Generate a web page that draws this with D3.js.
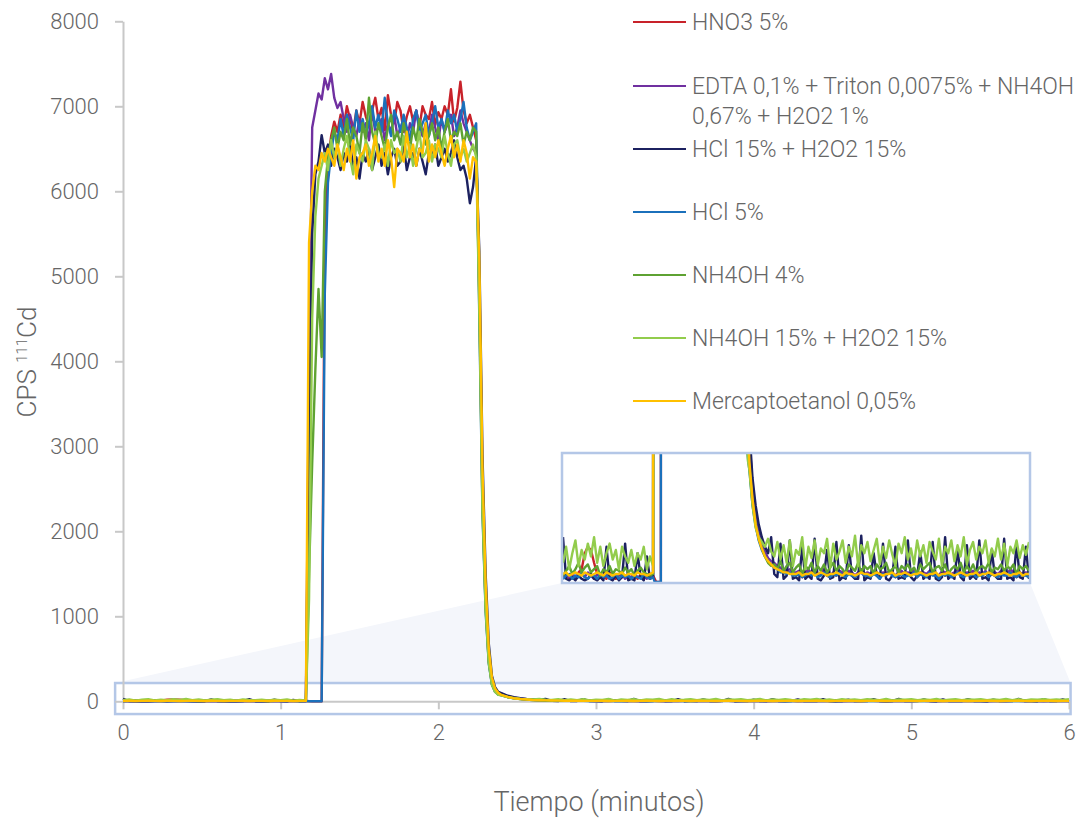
<!DOCTYPE html>
<html>
<head>
<meta charset="utf-8">
<script src="https://cdn.jsdelivr.net/npm/d3@7"></script>
<style>
  html, body { margin: 0; padding: 0; background: #fff; }
  svg text { font-family: Roboto, "Open Sans", sans-serif; font-weight: 300; fill: #666; }
</style>
</head>
<body>
<svg id="chart" width="1084" height="820"></svg>
<script>
// time segments (minutes)
const preSpan = [0, 1.12];
const peakSpan = [1.16, 2.24];
const fallSpan = [2.26, 2.38];
const afterSpan = [2.40, 6.0];

const seriesNames = ['HNO3 5%', 'EDTA 0,1% + Triton 0,0075% + NH4OH|0,67% + H2O2 1%', 'HCl 15% + H2O2 15%',
  'HCl 5%', 'NH4OH 4%', 'NH4OH 15% + H2O2 15%', 'Mercaptoetanol 0,05%'];
const seriesColors = ['#c8222a', '#7030a0', '#1c2160', '#1b70bb', '#5ea232', '#92cc4c', '#ffc000'];

// baseline before injection
const redPre = [3, 5, 2, 4, 2, 6, 8, 18, 22, 20, 12, 5, 3, 4, 2, 6, 4, 2, 5, 3, 4, 2, 3, 5, 2, 4, 2, 4, 2];
const purplePre = [2, 4, 3, 6, 2, 4, 5, 3, 6, 4, 2, 5, 4, 3, 6, 3, 2, 4, 4, 5, 2, 4, 3, 5, 3, 4, 4, 2, 3];
const navyPre = [28, 2, 1, 3, 1, 4, 2, 1, 2, 5, 2, 1, 3, 1, 22, 2, 1, 4, 1, 3, 24, 1, 2, 1, 18, 3, 1, 16, 2];
const bluePre = [2, 4, 5, 2, 4, 3, 6, 3, 2, 4, 4, 2, 5, 3, 4, 2, 3, 5, 2, 4, 3, 4, 2, 4, 3, 2, 5, 3, 2];
const greenPre = [4, 7, 10, 5, 8, 12, 6, 9, 11, 6, 8, 10, 4, 8, 6, 10, 5, 8, 7, 5, 9, 6, 8, 4, 7, 9, 6, 5, 4];
const lgreenPre = [12, 22, 8, 18, 26, 10, 20, 14, 24, 16, 28, 12, 22, 10, 18, 24, 14, 20, 8, 22, 16, 12, 20, 10, 18, 14, 22, 8, 16];
const yellowPre = [5, 6, 4, 5, 6, 5, 4, 6, 5, 4, 5, 6, 5, 4, 6, 5, 4, 5, 5, 6, 4, 5, 5, 4, 6, 5, 5, 4, 5];

// rise + plateau (1.16 .. 2.24 min)
const redPeak = [4, 2, 0, 0, 0, 0, 5600, 6350, 6650, 6820, 6700, 6900, 6750, 7000, 6850, 6700, 6950, 6800, 7050, 6880, 6760, 6950, 7100, 6850, 6980, 6720, 7130, 6900, 6800, 7050, 6950, 6700, 6880, 7000, 6820, 6950, 6750, 7000, 6900, 6850, 7050, 6780, 6930, 6850, 7000, 6900, 7200, 6820, 6980, 7290, 6950, 6800, 6900, 6750, 6600];
const purplePeak = [4, 4000, 6750, 6950, 7150, 7080, 7330, 7200, 7380, 7100, 6980, 7050, 6850, 6700, 6900, 6750, 6650, 6850, 6700, 6800, 6600, 6950, 6700, 6750, 6850, 6600, 6800, 6700, 6900, 6650, 6750, 6850, 6600, 6800, 6700, 6950, 6750, 6650, 6800, 6700, 6900, 6750, 6600, 6850, 6700, 6800, 6900, 6650, 6750, 6950, 6800, 6700, 6600, 6500, 6450];
const navyPeak = [3, 3200, 5500, 6200, 6350, 6660, 6450, 6550, 6300, 6500, 6400, 6250, 6450, 6350, 6550, 6300, 6400, 6150, 6450, 6350, 6500, 6250, 6400, 6550, 6300, 6450, 6200, 6400, 6500, 6300, 6350, 6550, 6250, 6400, 6450, 6300, 6500, 6350, 6200, 6450, 6400, 6550, 6300, 6400, 6500, 6350, 6450, 6600, 6400, 6250, 6300, 6150, 5860, 6050, 6400];
const bluePeak = [3, 0, 0, 0, 0, 0, 4800, 6100, 6450, 6700, 6600, 6850, 6650, 6900, 6750, 6600, 6950, 6700, 6850, 6650, 6800, 7000, 6750, 6900, 6700, 7100, 6800, 6650, 6950, 6850, 6700, 6900, 6750, 6600, 6850, 6950, 6700, 6800, 6900, 6650, 6800, 7000, 6750, 6850, 6700, 6950, 6800, 6900, 6700, 6850, 7050, 6750, 6600, 6700, 6800];
const greenPeak = [5, 1500, 2800, 3900, 4850, 4050, 6000, 6400, 6600, 6750, 6500, 6700, 6600, 6850, 6550, 6750, 6650, 6450, 6800, 6600, 7100, 6700, 6550, 6800, 6650, 6500, 6750, 6900, 6600, 6700, 6550, 6800, 6650, 6500, 6750, 6600, 6850, 6700, 6550, 6650, 6800, 6600, 6750, 6500, 6700, 6850, 6600, 6700, 6650, 6800, 6550, 6700, 6600, 6750, 6700];
const lgreenPeak = [10, 1200, 4500, 5700, 6150, 6300, 6450, 6250, 6600, 6400, 6550, 6300, 6500, 6650, 6400, 6200, 6550, 6450, 6350, 6600, 6500, 6250, 6700, 6450, 6400, 6550, 6300, 6600, 6450, 6500, 6350, 6650, 6400, 6550, 6300, 6500, 6700, 6400, 6450, 6600, 6350, 6550, 6500, 6400, 6650, 6450, 6300, 6550, 6600, 6400, 6500, 6350, 6450, 6550, 6400];
const yellowPeak = [6, 5400, 6000, 6300, 6250, 6450, 6350, 6500, 6400, 6300, 6550, 6400, 6250, 6500, 6350, 6600, 6150, 6400, 6450, 6550, 6300, 6450, 6650, 6350, 6500, 6300, 6600, 6400, 6050, 6500, 6450, 6350, 6700, 6400, 6550, 6300, 6500, 6450, 6800, 6350, 6550, 6400, 6600, 6450, 6300, 6500, 6650, 6400, 6550, 6350, 6600, 6450, 6150, 6400, 6350];

// washout (2.26 .. 2.38 min)
const redFall = [4800, 2400, 1150, 480, 210, 120, 85];
const purpleFall = [5000, 2600, 1300, 560, 250, 140, 95];
const navyFall = [5300, 2900, 1500, 680, 300, 165, 110];
const blueFall = [4500, 2200, 1050, 440, 195, 110, 78];
const greenFall = [4700, 2300, 1100, 460, 200, 115, 80];
const lgreenFall = [4600, 2250, 1080, 450, 195, 110, 76];
const yellowFall = [5200, 2750, 1400, 620, 280, 150, 100];

// tail + baseline (2.40 .. 6.00 min)
const redAfter = [80, 55, 38, 28, 22, 17, 14, 11, 10, 8, 7, 6, 6, 6, 5, 4, 6, 3, 5, 7, 4, 6, 4, 5, 6, 4, 3, 5, 4, 6, 5, 4, 6, 4, 3, 5, 6, 4, 5, 4, 6, 4, 3, 5, 4, 6, 5, 3, 4, 6, 4, 5, 4, 6, 3, 5, 4, 4, 6, 5, 4, 3, 6, 4, 5, 4, 5, 6, 4, 3, 5, 4, 6, 4, 5, 4, 6, 3, 5, 4, 4, 6, 5, 4, 6, 4, 3, 5, 4, 5, 4];
const purpleAfter = [90, 60, 42, 31, 24, 19, 15, 13, 12, 10, 9, 8, 7, 8, 6, 6, 7, 5, 6, 8, 5, 7, 4, 6, 8, 6, 4, 6, 5, 7, 6, 5, 7, 6, 4, 6, 8, 5, 6, 5, 7, 6, 4, 6, 5, 7, 6, 4, 6, 7, 5, 6, 5, 8, 4, 6, 6, 5, 7, 6, 5, 4, 7, 6, 6, 5, 6, 8, 5, 4, 6, 6, 7, 5, 6, 5, 7, 4, 6, 6, 5, 7, 6, 5, 8, 6, 4, 6, 5, 6, 5];
const navyAfter = [95, 65, 48, 36, 28, 22, 18, 28, 5, 3, 24, 2, 4, 26, 2, 3, 1, 22, 2, 4, 2, 27, 2, 1, 4, 20, 2, 3, 25, 1, 3, 2, 23, 4, 2, 2, 29, 1, 3, 2, 18, 4, 2, 24, 2, 1, 4, 22, 2, 3, 2, 26, 3, 1, 4, 19, 2, 4, 2, 25, 2, 1, 3, 28, 2, 4, 2, 21, 3, 1, 23, 2, 4, 2, 26, 2, 3, 1, 20, 4, 2, 2, 27, 2, 3, 1, 24, 3, 2, 22, 2];
const blueAfter = [70, 48, 35, 26, 20, 16, 13, 11, 9, 8, 6, 6, 5, 6, 4, 4, 5, 3, 4, 6, 4, 5, 3, 4, 6, 4, 3, 5, 4, 6, 4, 3, 5, 4, 3, 5, 6, 4, 4, 3, 5, 4, 2, 5, 4, 6, 4, 3, 4, 5, 3, 4, 4, 6, 3, 5, 4, 3, 6, 4, 4, 2, 5, 4, 5, 3, 4, 6, 4, 3, 5, 4, 5, 3, 4, 4, 6, 3, 5, 4, 3, 5, 4, 4, 6, 4, 3, 5, 4, 4, 3];
const greenAfter = [72, 50, 36, 27, 21, 16, 12, 10, 11, 8, 13, 7, 10, 12, 6, 9, 11, 5, 10, 8, 12, 6, 10, 7, 11, 6, 9, 12, 7, 10, 8, 5, 11, 9, 7, 12, 6, 10, 8, 10, 5, 11, 8, 9, 12, 6, 8, 10, 6, 10, 8, 11, 7, 9, 5, 11, 8, 10, 12, 6, 9, 10, 7, 11, 5, 8, 10, 8, 12, 6, 10, 7, 11, 6, 9, 10, 8, 12, 6, 9, 8, 11, 7, 10, 8, 11, 5, 10, 8, 10, 7];
const lgreenAfter = [70, 48, 34, 28, 25, 22, 27, 19, 16, 25, 14, 23, 12, 26, 10, 20, 17, 28, 8, 22, 15, 26, 11, 21, 18, 27, 9, 24, 14, 19, 26, 12, 22, 16, 29, 10, 23, 18, 25, 13, 20, 27, 11, 22, 15, 26, 17, 10, 24, 18, 28, 14, 21, 11, 26, 16, 23, 12, 25, 19, 14, 27, 10, 22, 18, 26, 13, 23, 16, 28, 11, 20, 25, 14, 22, 18, 26, 12, 21, 16, 27, 14, 24, 10, 22, 18, 26, 15, 23, 17, 25];
const yellowAfter = [75, 52, 36, 27, 21, 16, 13, 11, 9, 8, 7, 6, 6, 5, 5, 5, 6, 4, 5, 5, 6, 4, 5, 6, 5, 4, 5, 5, 6, 5, 4, 6, 5, 5, 4, 5, 6, 5, 5, 4, 5, 6, 5, 4, 5, 5, 6, 4, 5, 5, 6, 5, 4, 5, 5, 6, 5, 4, 5, 5, 6, 4, 5, 5, 6, 5, 4, 5, 6, 5, 4, 5, 5, 6, 4, 5, 5, 6, 5, 4, 5, 5, 6, 5, 4, 5, 5, 6, 4, 5, 5];

const xTicks = [0, 1, 2, 3, 4, 5, 6];
const yTicks = [0, 1000, 2000, 3000, 4000, 5000, 6000, 7000, 8000];
// region shown in the zoom window (minutes, cps)
const zoomX = [-0.05, 6.01];
const zoomY = [-150, 215];
const insetY = [0, 80];

const segs = [
  [redPre, redPeak, redFall, redAfter],
  [purplePre, purplePeak, purpleFall, purpleAfter],
  [navyPre, navyPeak, navyFall, navyAfter],
  [bluePre, bluePeak, blueFall, blueAfter],
  [greenPre, greenPeak, greenFall, greenAfter],
  [lgreenPre, lgreenPeak, lgreenFall, lgreenAfter],
  [yellowPre, yellowPeak, yellowFall, yellowAfter]
];
const spans = [preSpan, peakSpan, fallSpan, afterSpan];

const series = segs.map((parts, k) => {
  const pts = [];
  parts.forEach((vals, j) => {
    const [a, b] = spans[j];
    vals.forEach((v, i) => pts.push({ t: a + (b - a) * i / (vals.length - 1), v }));
  });
  return { name: seriesNames[k], color: seriesColors[k], values: pts };
});

const svg = d3.select('#chart');
const x = d3.scaleLinear().domain([0, 6]).range([123, 1069]);
const y = d3.scaleLinear().domain([0, 8000]).range([701.3, 21.3]);

const axisColor = '#c8c8c8';
const boxColor = '#b4c7e7';

// inset geometry
const inset = { x0: 562, y0: 453, x1: 1030, y1: 583 };
const ix = d3.scaleLinear().domain([0, 6]).range([inset.x0 + 1, inset.x1 - 1]);
const iy = d3.scaleLinear().domain(insetY).range([inset.y1 - 1, inset.y0 + 1]);

// shaded connector between zoom box and inset
const zx0 = x(zoomX[0]), zx1 = x(zoomX[1]);
const zy0 = y(zoomY[1]), zy1 = y(zoomY[0]);
svg.append('path')
  .attr('d', `M${zx0},${zy0}L${inset.x0},${inset.y1}L${inset.x1},${inset.y1}L${zx1},${zy0}Z`)
  .attr('fill', '#f4f6fb');

svg.append('rect')
  .attr('x', zx0).attr('y', zy0)
  .attr('width', zx1 - zx0).attr('height', zy1 - zy0)
  .attr('fill', '#fff')
  .attr('stroke', boxColor).attr('stroke-width', 2.5);

// axes
const yAxis = svg.append('g')
  .attr('transform', `translate(${x(0)},0)`)
  .call(d3.axisLeft(y).tickValues(yTicks).tickFormat(d3.format('d'))
    .tickSize(8).tickSizeOuter(0).tickPadding(16));
const xAxis = svg.append('g')
  .attr('transform', `translate(0,${y(0)})`)
  .call(d3.axisBottom(x).tickValues(xTicks).tickFormat(d3.format('d'))
    .tickSize(8).tickSizeOuter(0).tickPadding(15));

[yAxis, xAxis].forEach(a => {
  a.select('.domain').attr('stroke', axisColor).attr('stroke-width', 2);
  a.selectAll('.tick line').attr('stroke', axisColor).attr('stroke-width', 2);
  a.selectAll('.tick text').style('font-size', '22px').style('fill', '#666');
});

// lines
const line = d3.line().x(d => x(d.t)).y(d => y(d.v));
svg.append('g').selectAll('path')
  .data(series)
  .join('path')
  .attr('d', d => line(d.values))
  .attr('fill', 'none')
  .attr('stroke', d => d.color)
  .attr('stroke-width', 2.4)
  .attr('stroke-linejoin', 'round');

// inset
svg.append('clipPath').attr('id', 'insetClip')
  .append('rect')
  .attr('x', inset.x0).attr('y', inset.y0)
  .attr('width', inset.x1 - inset.x0).attr('height', inset.y1 - inset.y0);

svg.append('rect')
  .attr('x', inset.x0).attr('y', inset.y0)
  .attr('width', inset.x1 - inset.x0).attr('height', inset.y1 - inset.y0)
  .attr('fill', '#fff');

const insetLine = d3.line().x(d => ix(d.t)).y(d => iy(d.v));
svg.append('g').attr('clip-path', 'url(#insetClip)')
  .selectAll('path')
  .data(series)
  .join('path')
  .attr('d', d => insetLine(d.values))
  .attr('fill', 'none')
  .attr('stroke', d => d.color)
  .attr('stroke-width', 2.4)
  .attr('stroke-linejoin', 'round');

svg.append('rect')
  .attr('x', inset.x0).attr('y', inset.y0)
  .attr('width', inset.x1 - inset.x0).attr('height', inset.y1 - inset.y0)
  .attr('fill', 'none')
  .attr('stroke', boxColor).attr('stroke-width', 2.5);

// legend
const legendRows = [22, 86, 149, 212, 275, 338, 401];
const legend = svg.append('g');
series.forEach((s, i) => {
  const g = legend.append('g').attr('transform', `translate(633,${legendRows[i]})`);
  g.append('line').attr('x1', 0).attr('x2', 53)
    .attr('stroke', s.color).attr('stroke-width', 2);
  const txt = g.append('text').style('font-size', '23px');
  s.name.split('|').forEach((l, j) => {
    txt.append('tspan').attr('x', 59).attr('y', j * 30).attr('dy', '0.35em').text(l);
  });
});

// axis titles
svg.append('text')
  .attr('x', 599).attr('y', 811)
  .attr('text-anchor', 'middle')
  .style('font-size', '27px')
  .text('Tiempo (minutos)');

const yt = svg.append('text')
  .attr('transform', 'translate(36,362) rotate(-90)')
  .attr('text-anchor', 'middle')
  .style('font-size', '26px');
yt.append('tspan').text('CPS ');
yt.append('tspan').attr('dy', '-9').style('font-size', '15px').text('111');
yt.append('tspan').attr('dy', '9').text('Cd');
</script>
</body>
</html>
